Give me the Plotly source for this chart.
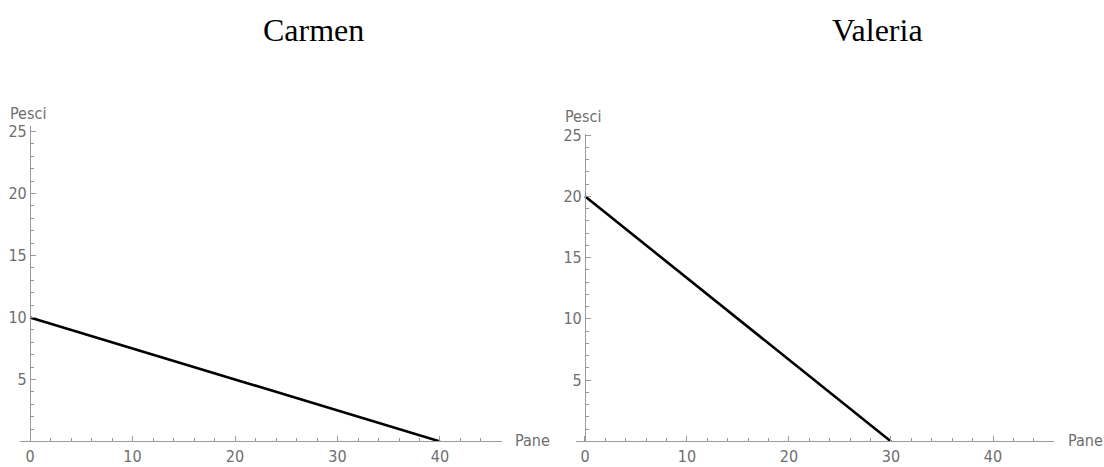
import plotly.graph_objects as go

W, H = 1104, 467

# Data
titles = ["Carmen", "Valeria"]
carmen_pane = [0, 40]
carmen_pesci = [10, 0]
valeria_pane = [0, 30]
valeria_pesci = [20, 0]
x_ticks = [0, 10, 20, 30, 40]
y_ticks = [5, 10, 15, 20, 25]
x_label = "Pane"
y_label = "Pesci"

GRAY = "#6e6e6e"
AXC = "#9a9a9a"
TICKFONT = dict(family="Liberation Sans Narrow, DejaVu Sans Condensed, Liberation Sans", size=16, color=GRAY)

def px_x(p):
    return p / W

def px_y(p):
    return 1 - p / H

fig = go.Figure()
fig.add_trace(go.Scatter(x=carmen_pane, y=carmen_pesci, mode="lines",
                         line=dict(color="black", width=2.6), xaxis="x", yaxis="y",
                         showlegend=False, hoverinfo="skip"))
fig.add_trace(go.Scatter(x=valeria_pane, y=valeria_pesci, mode="lines",
                         line=dict(color="black", width=2.6), xaxis="x2", yaxis="y2",
                         showlegend=False, hoverinfo="skip"))

def xaxis(domain, rng, anchor):
    return dict(domain=domain, range=rng, anchor=anchor, showgrid=False, zeroline=False,
                showline=True, linecolor=AXC, linewidth=1.2,
                tickmode="array", tickvals=x_ticks, ticks="inside", ticklen=5,
                tickcolor=AXC, tickwidth=1, tickfont=TICKFONT,
                minor=dict(dtick=2, tick0=0, ticks="inside", ticklen=3, tickcolor=AXC, tickwidth=1),
                fixedrange=True)

def yaxis(domain, rng, pos):
    return dict(domain=domain, range=rng, anchor="free", position=pos, showgrid=False,
                zeroline=False, showline=True, linecolor=AXC, linewidth=1.2,
                tickmode="array", tickvals=y_ticks, ticks="inside", ticklen=5,
                tickcolor=AXC, tickwidth=1, tickfont=TICKFONT,
                minor=dict(dtick=1, tick0=0, ticks="inside", ticklen=3, tickcolor=AXC, tickwidth=1),
                fixedrange=True)

fig.update_layout(
    width=W, height=H,
    margin=dict(l=0, r=0, t=0, b=0),
    paper_bgcolor="white", plot_bgcolor="white",
    xaxis=xaxis([px_x(20), px_x(502)], [-0.98, 46.05], "y"),
    yaxis=yaxis([px_y(441), px_y(120)], [0, 25.45], px_x(30)),
    xaxis2=xaxis([px_x(576), px_x(1054)], [-0.88, 45.98], "y2"),
    yaxis2=yaxis([px_y(441), px_y(128)], [0, 25.1], px_x(585)),
)

ann = []
for t, cx in zip(titles, [313, 877]):
    ann.append(dict(text=t, x=px_x(cx), y=px_y(22), xref="paper", yref="paper",
                    xanchor="center", yanchor="middle", showarrow=False,
                    font=dict(family="Liberation Serif, Times New Roman, serif", size=32, color="black")))
for cx, cy in [(28, 107), (583, 110)]:
    ann.append(dict(text=y_label, x=px_x(cx), y=px_y(cy), xref="paper", yref="paper",
                    xanchor="center", yanchor="middle", showarrow=False, font=TICKFONT))
for lx in [513, 1066]:
    ann.append(dict(text=x_label, x=px_x(lx), y=px_y(440), xref="paper", yref="paper",
                    xanchor="left", yanchor="middle", showarrow=False, font=TICKFONT))
fig.update_layout(annotations=ann)

fig.write_html("out.html", config={"displayModeBar": False},
               post_script="document.body.style.margin='0';document.body.style.padding='0';")
